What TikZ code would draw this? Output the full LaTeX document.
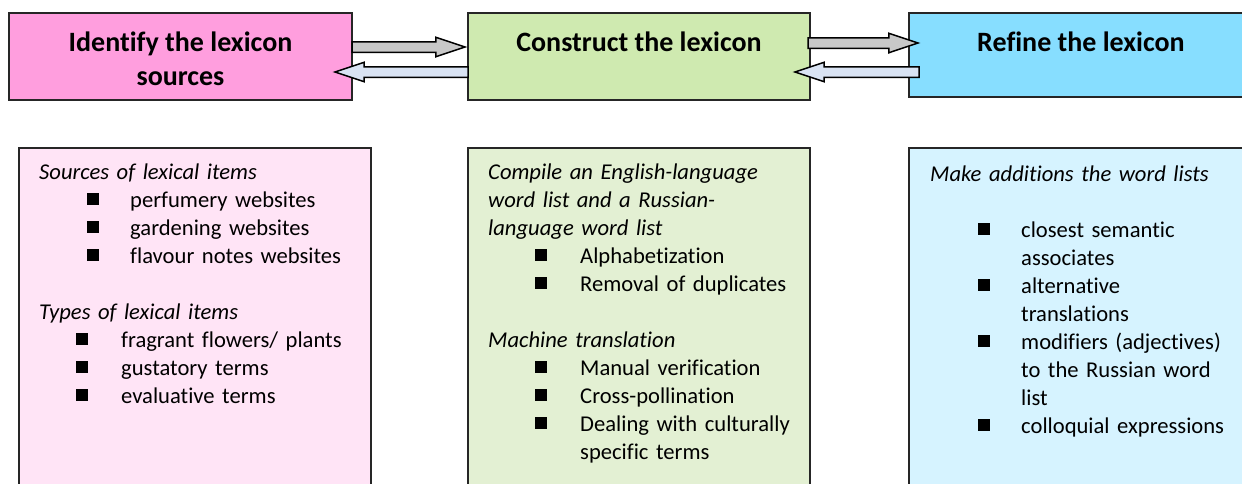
\documentclass[tikz,border=0pt]{standalone}
\usepackage{fontspec}
\setmainfont{Carlito}[Ligatures={NoCommon}]
\usepackage{xcolor}
\usetikzlibrary{shapes.arrows, positioning}

\definecolor{identpink}{RGB}{255,158,222}
\definecolor{constgreen}{RGB}{207,234,176}
\definecolor{refineblue}{RGB}{135,222,255}
\definecolor{identlight}{RGB}{255,228,246}
\definecolor{constlight}{RGB}{227,240,211}
\definecolor{refinelight}{RGB}{214,243,255}
\definecolor{fwdgray}{RGB}{200,200,200}
\definecolor{backblue}{RGB}{217,227,243}

\newcommand\sqbullet{\rule[3pt]{12pt}{12pt}}
% bullet line: bullet indent, text indent, text
\newcommand\lexitem[3]{\par\hangindent=#2\hangafter=1\noindent\hspace*{#1}\makebox[\dimexpr#2-#1\relax][l]{\sqbullet}#3}
\newcommand\lexhead[1]{\par\noindent\textit{#1}}

\begin{document}
\begin{tikzpicture}[
    x=1pt, y=-1pt,
    stagebox/.style = {rectangle, draw=black!85, line width=1.5pt, inner sep=0pt, outer sep=0pt},
    detailbox/.style = {rectangle, draw=black!85, line width=1.5pt, inner sep=0pt, outer sep=0pt, anchor=north west, minimum height=380pt},
    stagetitle/.style = {anchor=north, align=center, inner sep=0pt, font=\fontsize{28}{34}\selectfont\bfseries},
    detailtext/.style = {anchor=north west, text width=320pt, align=left, inner sep=0pt, font=\fontsize{22.6}{28}\selectfont},
    fwdarrow/.style = {single arrow, draw=black, line width=1.5pt, fill=fwdgray, inner xsep=0pt, inner ysep=4.5pt, outer sep=0pt, single arrow head extend=4.5pt, single arrow tip angle=37, anchor=tail},
    backarrow/.style = {fwdarrow, fill=backblue, shape border rotate=180}
]
\useasboundingbox (0,0) rectangle (1242,483);
\clip (0,0) rectangle (1242,483);

% stage boxes
\node [stagebox, fill=identpink, minimum width=343pt, minimum height=87pt] (ident) at (180.5,56.5) {};
\node [stagebox, fill=constgreen, minimum width=342pt, minimum height=87pt] (constr) at (639,56.5) {};
\node [stagebox, fill=refineblue, minimum width=344pt, minimum height=84pt] (refine) at (1081,55) {};

\node [stagetitle] (identT) at ([yshift=-14pt]ident.north) {\strut Identify the lexicon\\sources};
\node [stagetitle] (constrT) at ([yshift=-14pt]constr.north) {\strut Construct the lexicon};
\node [stagetitle] (refineT) at ([yshift=-14pt]refine.north) {\strut Refine the lexicon};

% detail boxes
\node [detailbox, fill=identlight, minimum width=352pt] (identD) at (19,148) {};
\node [detailbox, fill=constlight, minimum width=342pt] (constrD) at (468,148) {};
\node [detailbox, fill=refinelight, minimum width=360pt] (refineD) at (909,148) {};

\node [detailtext] (identList) at ([xshift=20pt, yshift=-3.6pt]identD.north west) {%
    \lexhead{\strut Sources of lexical items}
    \lexitem{48pt}{91pt}{perfumery websites}
    \lexitem{48pt}{91pt}{gardening websites}
    \lexitem{48pt}{91pt}{flavour notes websites}
    \par\vspace{28pt}
    \lexhead{Types of lexical items}
    \lexitem{37pt}{82pt}{fragrant flowers/ plants}
    \lexitem{37pt}{82pt}{gustatory terms}
    \lexitem{37pt}{82pt}{evaluative terms}\par};

\node [detailtext] (constrList) at ([xshift=20pt, yshift=-3.6pt]constrD.north west) {%
    \lexhead{\strut Compile an English-language\newline word list and a Russian-\newline language word list}
    \lexitem{47pt}{92pt}{Alphabetization}
    \lexitem{47pt}{92pt}{Removal of duplicates}
    \par\vspace{28pt}
    \lexhead{Machine translation}
    \lexitem{47pt}{92pt}{Manual verification}
    \lexitem{47pt}{92pt}{Cross-pollination}
    \lexitem{47pt}{92pt}{Dealing with culturally\newline specific terms}\par};

\node [detailtext] (refineList) at ([xshift=21pt, yshift=-5.6pt]refineD.north west) {%
    \lexhead{\strut Make additions the word lists}
    \par\vspace{28pt}
    \lexitem{48pt}{91pt}{closest semantic\newline associates}
    \lexitem{48pt}{91pt}{alternative\newline translations}
    \lexitem{48pt}{91pt}{modifiers (adjectives)\newline to the Russian word\newline list}
    \lexitem{48pt}{91pt}{colloquial expressions}\par};

% arrows between the stages
\node [fwdarrow, minimum height=113pt] (identFwd) at ([yshift=9.5pt]ident.east) {};
\node [backarrow, minimum height=133pt] (constrBack) at ([yshift=-15.5pt]constr.west) {};
\node [fwdarrow, minimum height=110pt] (constrFwd) at ([xshift=-2pt, yshift=13.5pt]constr.east) {};
\node [backarrow, minimum height=124pt] (refineBack) at ([xshift=10pt, yshift=-17pt]refine.west) {};

\end{tikzpicture}
\end{document}
